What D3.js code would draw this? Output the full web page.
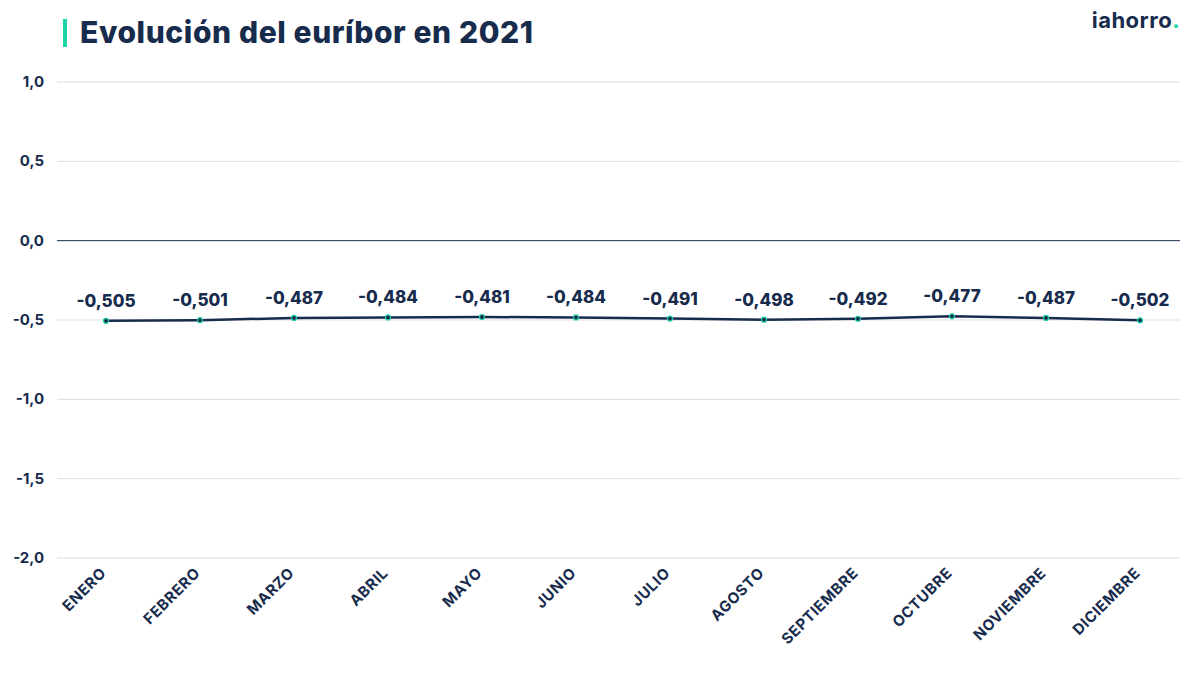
<!DOCTYPE html>
<html>
<head>
<meta charset="utf-8">
<script src="https://cdn.jsdelivr.net/npm/d3@7"></script>
<style>
  body { margin: 0; background: #fff; }
  svg { display: block; font-family: "Inter", "Open Sans", sans-serif; }
</style>
</head>
<body>
<div id="chart"></div>
<script>
var months = ["ENERO", "FEBRERO", "MARZO", "ABRIL", "MAYO", "JUNIO", "JULIO",
  "AGOSTO", "SEPTIEMBRE", "OCTUBRE", "NOVIEMBRE", "DICIEMBRE"];
var euribor = [-0.505, -0.501, -0.487, -0.484, -0.481, -0.484, -0.491,
  -0.498, -0.492, -0.477, -0.487, -0.502];
var yTicks = [1.0, 0.5, 0.0, -0.5, -1.0, -1.5, -2.0];

var width = 1200, height = 675;
var navy = "#172b4d", teal = "#1dd3a7";

var svg = d3.select("#chart").append("svg")
  .attr("width", width)
  .attr("height", height);

// title + accent bar
svg.append("rect")
  .attr("x", 63).attr("y", 19)
  .attr("width", 4).attr("height", 28)
  .attr("fill", teal);

svg.append("text")
  .attr("x", 80).attr("y", 43)
  .attr("fill", navy)
  .style("font-size", "30px")
  .style("font-weight", 800)
  .style("letter-spacing", "0.6px")
  .text("Evolución del euríbor en 2021");

// logo
var logo = svg.append("text")
  .attr("x", 1180).attr("y", 28)
  .attr("text-anchor", "end")
  .attr("fill", navy)
  .style("font-size", "22px")
  .style("font-weight", 700)
  .style("letter-spacing", "0.5px");
logo.append("tspan").text("iahorro");
logo.append("tspan").attr("fill", teal).text(".");

var x = d3.scalePoint()
  .domain(months)
  .range([59, 1187])
  .padding(0.5);

var y = d3.scaleLinear()
  .domain([-2, 1])
  .range([558, 82]);

var fmt = function (v, n) { return d3.format("." + n + "f")(v).replace(".", ",").replace("−", "-"); };

// grid
svg.append("g")
  .selectAll("line")
  .data(yTicks)
  .enter().append("line")
  .attr("x1", 57).attr("x2", 1180)
  .attr("y1", d => y(d)).attr("y2", d => y(d))
  .attr("stroke", d => d === 0 ? navy : "#dddddd")
  .attr("stroke-width", 1);

// y axis labels
svg.append("g")
  .selectAll("text")
  .data(yTicks)
  .enter().append("text")
  .attr("x", 44)
  .attr("y", d => y(d) + 5)
  .attr("text-anchor", "end")
  .attr("fill", navy)
  .style("font-size", "15px")
  .style("font-weight", 700)
  .text(d => fmt(d, 1));

// x axis labels
svg.append("g")
  .selectAll("text")
  .data(months)
  .enter().append("text")
  .attr("text-anchor", "end")
  .attr("transform", d => "translate(" + (x(d) + 1) + ",574) rotate(-45)")
  .attr("fill", navy)
  .style("font-size", "15px")
  .style("font-weight", 700)
  .style("letter-spacing", "0.6px")
  .text(d => d);

var pts = months.map((m, i) => ({ m: m, v: euribor[i] }));

// line
svg.append("path")
  .datum(pts)
  .attr("fill", "none")
  .attr("stroke", navy)
  .attr("stroke-width", 2.5)
  .attr("d", d3.line().x(d => x(d.m)).y(d => y(d.v)));

// markers
svg.append("g")
  .selectAll("circle")
  .data(pts)
  .enter().append("circle")
  .attr("cx", d => x(d.m))
  .attr("cy", d => y(d.v))
  .attr("r", 2.5)
  .attr("fill", navy)
  .attr("stroke", teal)
  .attr("stroke-width", 1.2);

// value labels
svg.append("g")
  .selectAll("text")
  .data(pts)
  .enter().append("text")
  .attr("x", d => x(d.m))
  .attr("y", d => y(d.v) - 14)
  .attr("text-anchor", "middle")
  .attr("fill", navy)
  .style("font-size", "17px")
  .style("font-weight", 800)
  .text(d => fmt(d.v, 3));
</script>
</body>
</html>
